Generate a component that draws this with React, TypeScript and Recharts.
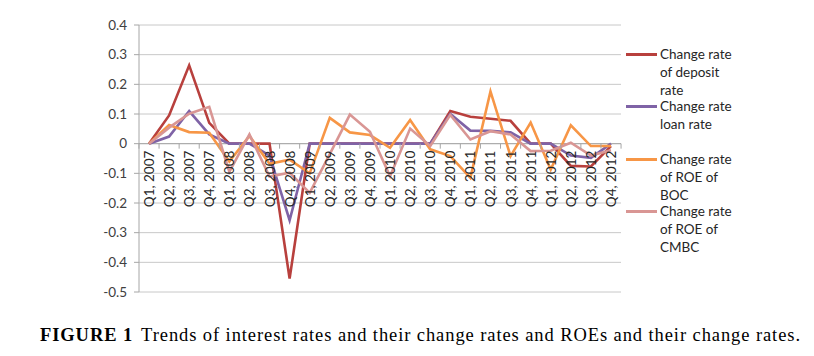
import React from 'react';
import { LineChart, Line, XAxis, YAxis, CartesianGrid, ReferenceLine, ReferenceDot, Legend } from 'recharts';

const categories = [
  'Q1, 2007', 'Q2, 2007', 'Q3, 2007', 'Q4, 2007',
  'Q1, 2008', 'Q2, 2008', 'Q3, 2008', 'Q4, 2008',
  'Q1, 2009', 'Q2, 2009', 'Q3, 2009', 'Q4, 2009',
  'Q1, 2010', 'Q2, 2010', 'Q3, 2010', 'Q4, 2010',
  'Q1, 2011', 'Q2, 2011', 'Q3, 2011', 'Q4, 2011',
  'Q1, 2012', 'Q2, 2012', 'Q3, 2012', 'Q4, 2012',
];

const depositRate = [0, 0.095, 0.264, 0.07, 0, 0, 0, -0.455, 0, 0, 0, 0, 0, 0, 0, 0.11, 0.091, 0.084, 0.077, 0, 0, -0.075, -0.077, -0.008];
const loanRate = [0, 0.024, 0.11, 0.031, 0, 0, -0.04, -0.258, 0, 0, 0, 0, 0, 0, 0, 0.1, 0.044, 0.043, 0.038, 0, 0, -0.04, -0.048, 0];
const roeBOC = [0, 0.063, 0.039, 0.037, -0.06, 0.026, -0.068, -0.054, -0.1, 0.087, 0.038, 0.029, -0.014, 0.08, -0.019, -0.042, -0.115, 0.176, -0.042, 0.071, -0.087, 0.062, -0.008, -0.008];
const roeCMBC = [0, 0.054, 0.101, 0.124, -0.095, 0.031, -0.111, -0.098, -0.166, -0.035, 0.098, 0.04, -0.11, 0.051, -0.008, 0.097, 0.014, 0.042, 0.031, -0.025, -0.024, 0.003, -0.04, -0.022];

const yTicks = [-0.5, -0.4, -0.3, -0.2, -0.1, 0, 0.1, 0.2, 0.3, 0.4];

const seriesKeys = ['deposit', 'loan', 'boc', 'cmbc'];
const seriesNames = ['Change rate of deposit rate', 'Change rate loan rate', 'Change rate of ROE of BOC', 'Change rate of ROE of CMBC'];
const legendLines = [
  ['Change rate', 'of deposit', 'rate'],
  ['Change rate', 'loan rate', ''],
  ['Change rate', 'of ROE of', 'BOC'],
  ['Change rate', 'of ROE of', 'CMBC'],
];
const seriesColors = ['#B8403D', '#7F63A6', '#F79646', '#D99694'];

const captionBold = 'FIGURE 1';
const captionText = 'Trends of interest rates and their change rates and ROEs and their change rates.';

const data = categories.map((c, i) => ({
  cat: c,
  deposit: depositRate[i],
  loan: loanRate[i],
  boc: roeBOC[i],
  cmbc: roeCMBC[i],
}));

const FONT = 'Lato, "Open Sans", sans-serif';
const AXIS_GRAY = '#A6A6A6';

const CategoryTick = (props: any) => {
  const { cx, cy, label, first } = props;
  if (cx == null || cy == null) return null;
  const half = 10.05;
  return (
    <g>
      {first && <line x1={cx - half} y1={cy} x2={cx - half} y2={cy + 5} stroke={AXIS_GRAY} strokeWidth={1} />}
      <line x1={cx + half} y1={cy} x2={cx + half} y2={cy + 5} stroke={AXIS_GRAY} strokeWidth={1} />
      <text
        x={cx}
        y={cy + 7}
        transform={`rotate(-90, ${cx}, ${cy + 7})`}
        textAnchor="end"
        dominantBaseline="central"
        fontFamily={FONT}
        fontSize={13.5}
        fill="#262626"
      >
        {label}
      </text>
    </g>
  );
};

const LegendContent = () => (
  <div style={{ fontFamily: FONT, fontSize: 13.5, color: '#262626', textAlign: 'left' }}>
    {seriesKeys.map((k, i) => (
      <div key={k} style={{ display: 'flex', alignItems: 'flex-start', height: 52.3 }}>
        <div style={{ width: 31, height: 3, background: seriesColors[i], marginTop: 8, marginRight: 3, flex: 'none' }} />
        <div style={{ lineHeight: '18px' }}>
          {legendLines[i].map((l, j) => (
            <div key={j} style={{ height: 18, whiteSpace: 'nowrap' }}>{l}</div>
          ))}
        </div>
      </div>
    ))}
  </div>
);

export default function App() {
  return (
    <div style={{ position: 'absolute', left: 0, top: 0, width: 814, height: 356, background: '#fff' }}>
      <LineChart width={814} height={356} data={data} margin={{ top: 25, right: 193, bottom: 64, left: 0 }}>
        <CartesianGrid horizontal vertical={false} stroke="#C8C8C8" strokeWidth={1} />
        <XAxis dataKey="cat" type="category" hide padding={{ left: 10, right: 10 }} />
        <YAxis
          width={139}
          domain={[-0.5, 0.4]}
          ticks={yTicks}
          interval={0}
          axisLine={{ stroke: AXIS_GRAY }}
          tickLine={{ stroke: AXIS_GRAY }}
          tickSize={5}
          tickMargin={7}
          tick={{ fill: '#404040', fontSize: 13.5, fontFamily: FONT }}
          tickFormatter={(v: number) => String(Math.round(v * 10) / 10)}
        />
        <ReferenceLine y={0} stroke={AXIS_GRAY} strokeWidth={1} />
        {categories.map((c, i) => (
          <ReferenceDot
            key={c}
            x={c}
            y={0}
            r={0}
            ifOverflow="visible"
            shape={(p: any) => <CategoryTick {...p} label={c} first={i === 0} />}
          />
        ))}
        {seriesKeys.map((k, i) => (
          <Line
            key={k}
            type="linear"
            dataKey={k}
            name={seriesNames[i]}
            stroke={seriesColors[i]}
            strokeWidth={2.6}
            dot={false}
            activeDot={false}
            isAnimationActive={false}
          />
        ))}
        <Legend
          layout="vertical"
          align="center"
          verticalAlign="middle"
          content={<LegendContent />}
          wrapperStyle={{ left: 626, top: 45, width: 185, height: 220 }}
        />
      </LineChart>
      <svg width={814} height={40} style={{ position: 'absolute', left: 0, top: 316 }}>
        <text x={40} y={25} textLength={760} lengthAdjust="spacing" fontFamily='"Liberation Serif", "DejaVu Serif", serif' fontSize={18.5} fill="#000">
          <tspan fontWeight="bold">{captionBold}</tspan>
          <tspan dx={8}>{captionText}</tspan>
        </text>
      </svg>
    </div>
  );
}
